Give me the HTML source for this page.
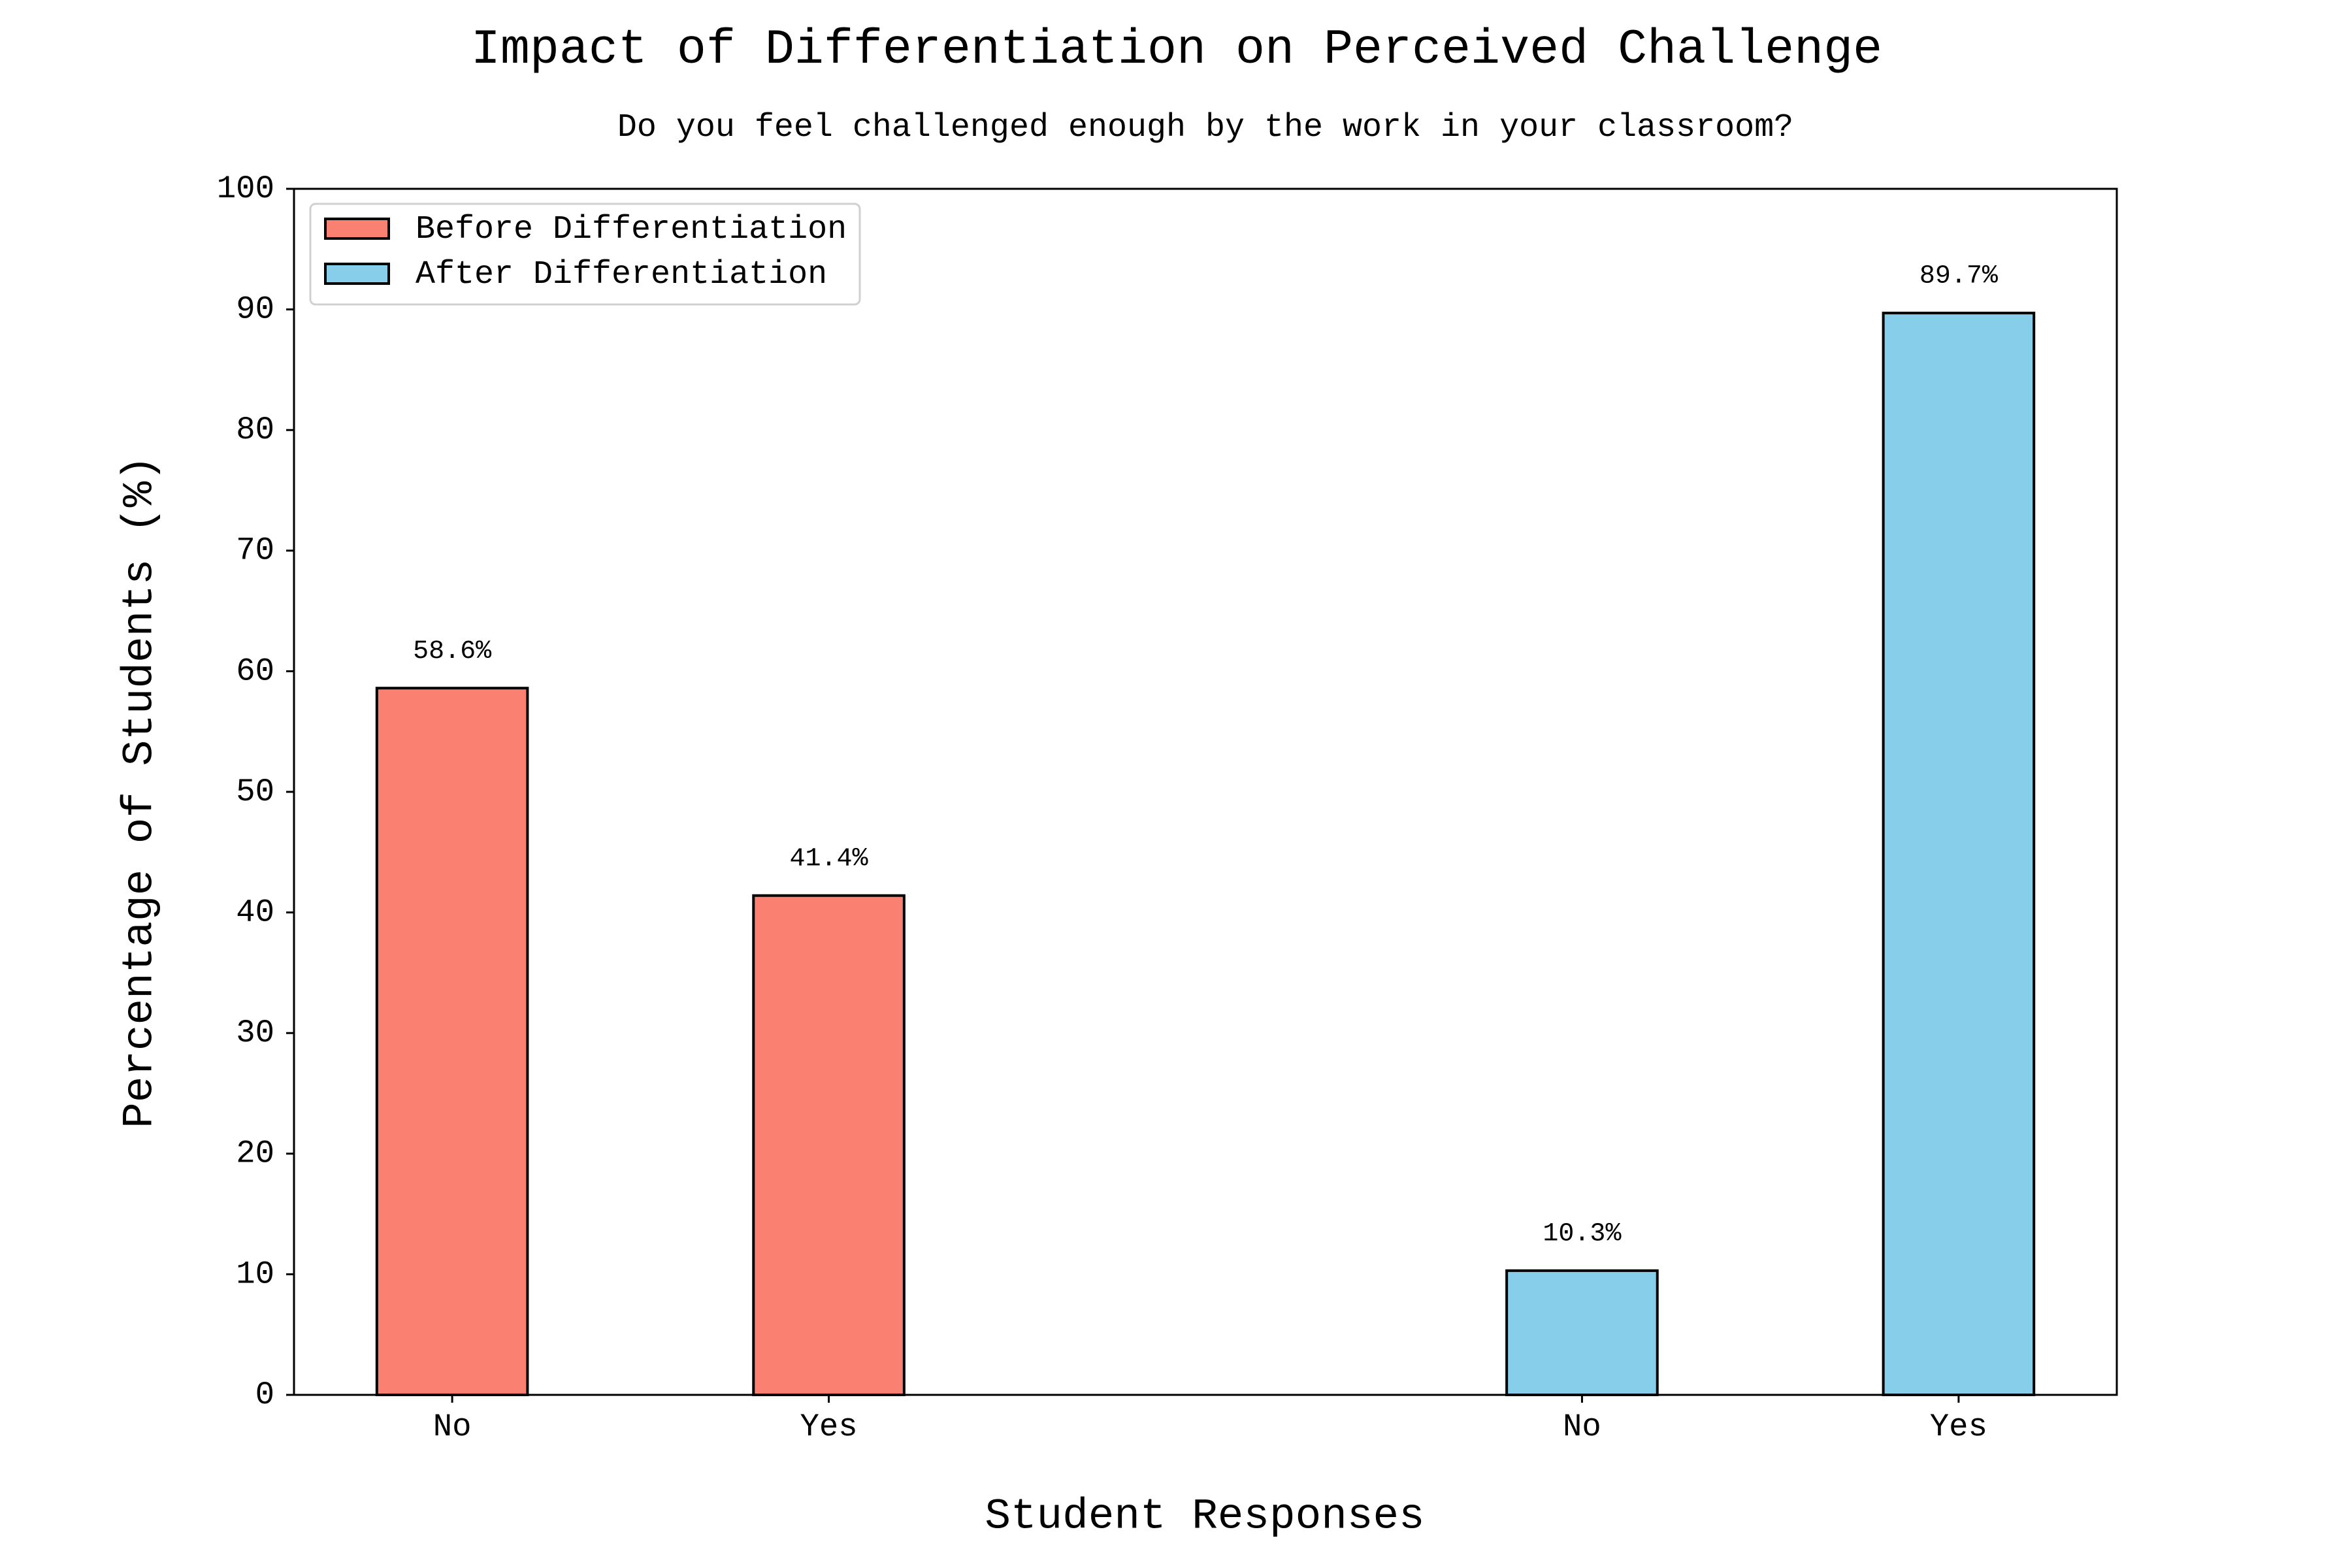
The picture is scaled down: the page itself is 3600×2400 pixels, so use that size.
<!DOCTYPE html>
<html><head><meta charset="utf-8"><style>
html,body{margin:0;padding:0;background:#fff;}
svg{display:block;font-family:"Liberation Mono","DejaVu Sans Mono",monospace;}
</style></head><body>
<svg id="chart" width="3600" height="2400" viewBox="0 0 3600 2400">
<rect width="3600" height="2400" fill="#fff"/>
<text x="1801" y="76" font-size="75" text-anchor="middle" dominant-baseline="middle">Impact of Differentiation on Perceived Challenge</text>
<text x="1845" y="195" font-size="50" text-anchor="middle" dominant-baseline="middle">Do you feel challenged enough by the work in your classroom?</text>
<g id="bars"></g>
<g id="yticks"></g>
<g id="xticks"></g>
<rect x="450" y="289" width="2790" height="1846" fill="none" stroke="#000" stroke-width="3"/>
<text transform="translate(214,1212) rotate(-90)" font-size="66" text-anchor="middle" dominant-baseline="middle">Percentage of Students (%)</text>
<text x="1844" y="2321" font-size="66" text-anchor="middle" dominant-baseline="middle">Student Responses</text>
<g>
<rect x="475" y="312" width="841" height="154" rx="8" fill="#fff" stroke="#d0d0d0" stroke-width="3"/>
<rect x="498" y="335" width="97" height="30" fill="#FA8072" stroke="#000" stroke-width="4"/>
<text x="636" y="351" font-size="50" dominant-baseline="middle">Before Differentiation</text>
<rect x="498" y="404" width="97" height="30" fill="#87CEEB" stroke="#000" stroke-width="4"/>
<text x="636" y="420" font-size="50" dominant-baseline="middle">After Differentiation</text>
</g>
</svg>
<script>
const categories = ["No", "Yes", "No", "Yes"];
const groups = ["before", "before", "after", "after"];
const positions = [0, 1, 3, 4];
const values = [58.6, 41.4, 10.3, 89.7];
const yTicks = [0, 10, 20, 30, 40, 50, 60, 70, 80, 90, 100];

const NS = "http://www.w3.org/2000/svg";
const L = 450, R = 3240, T = 289, B = 2135;
const xMin = -0.42, xMax = 4.42, yMin = 0, yMax = 100;
function xs(v){ return L + (v - xMin) / (xMax - xMin) * (R - L); }
function ys(v){ return B - (v - yMin) / (yMax - yMin) * (B - T); }
const colors = {before: "#FA8072", after: "#87CEEB"};
function mk(tag, attrs){ const e = document.createElementNS(NS, tag); for (const k in attrs) e.setAttribute(k, attrs[k]); return e; }

const barsG = document.getElementById("bars");
const barW = xs(0.4) - xs(0);
values.forEach((v, i) => {
  const cx = xs(positions[i]);
  const r = mk("rect", {x: cx - barW/2, y: ys(v), width: barW, height: ys(0) - ys(v), fill: colors[groups[i]], stroke: "#000", "stroke-width": 4});
  
  
  barsG.appendChild(r);
  const t = mk("text", {x: cx, y: ys(v) - 57, "font-size": 40, "text-anchor": "middle", "dominant-baseline": "middle"});
  t.textContent = v.toFixed(1) + "%";
  
  
  barsG.appendChild(t);
});

const yG = document.getElementById("yticks");
yTicks.forEach(v => {
  const y = ys(v);
  const l = mk("line", {x1: L - 12, x2: L, y1: y, y2: y, stroke: "#000", "stroke-width": 3});
  
  
  yG.appendChild(l);
  const t = mk("text", {x: 420, y: y, "font-size": 49, "text-anchor": "end", "dominant-baseline": "middle"});
  t.textContent = v;
  
  
  yG.appendChild(t);
});

const xG = document.getElementById("xticks");
categories.forEach((c, i) => {
  const x = xs(positions[i]);
  const l = mk("line", {x1: x, x2: x, y1: B, y2: B + 12, stroke: "#000", "stroke-width": 3});
  
  
  xG.appendChild(l);
  const t = mk("text", {x: x, y: 2184, "font-size": 49, "text-anchor": "middle", "dominant-baseline": "middle"});
  t.textContent = c;
  
  
  xG.appendChild(t);
});
</script>
</body></html>
